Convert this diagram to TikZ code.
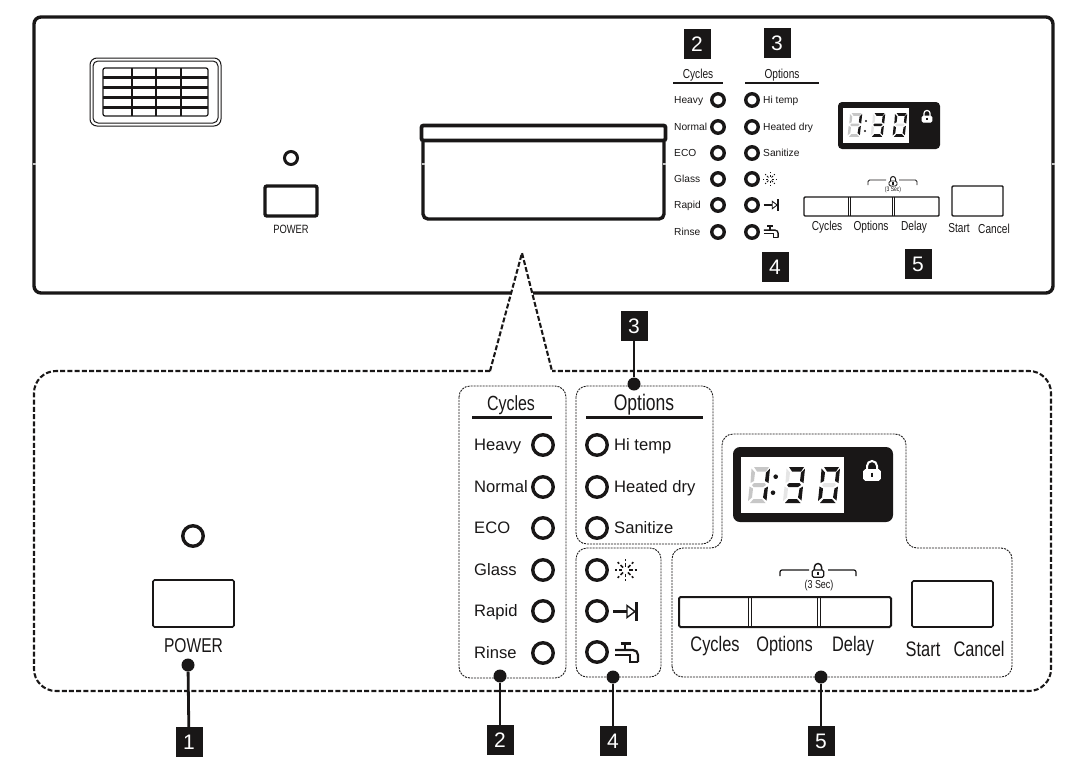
\documentclass[tikz,border=0pt]{standalone}
\usepackage{fontspec}
\setmainfont{Liberation Sans}
\newfontfamily\condfont{Liberation Sans}[FakeStretch=0.78]
\usetikzlibrary{positioning,calc}
\definecolor{panelblack}{rgb}{0.10,0.09,0.09}
\definecolor{seggray}{rgb}{0.78,0.78,0.78}
\definecolor{segfaint}{rgb}{0.90,0.90,0.90}

% segments of a digit
\def\sega{(7,0) -- (22,0) -- (19,4.5) -- (10,4.5) -- cycle}
\def\segb{(23,1.5) -- (21.5,16) -- (18,14) -- (19,5.5) -- cycle}
\def\segc{(21,19.5) -- (19.5,33.5) -- (16,30.5) -- (17.5,21.5) -- cycle}
\def\segd{(3,36) -- (18.5,36) -- (15,32) -- (6.5,32) -- cycle}
\def\sege{(2.5,19.5) -- (6,21.5) -- (5,30.5) -- (1,34) -- cycle}
\def\segf{(4.5,1.5) -- (8,5.5) -- (7,14) -- (3.5,16) -- cycle}
\def\segg{(7,16) -- (17.5,16) -- (19,18) -- (16,20) -- (6.5,20) -- (5,18) -- cycle}

% one seven segment digit, #1 = shift, #2 = scale, #3 = colour of the unlit part, #4 = unlit, #5 = lit
\newcommand{\segdigit}[5]{
\begin{scope}[shift={#1},scale=#2]
\fill[#3] #4;
\fill[panelblack] #5;
\end{scope}}

% padlock, #1 = shift, #2 = scale, #3 = colour, #4 = body fill
\newcommand{\lockicon}[4]{
\begin{scope}[shift={#1},scale=#2]
\draw[#3, line width=#2*2pt] (-5,0) -- (-5,-4) arc[start angle=180,end angle=360,radius=5] -- (5,0);
\draw[#3, fill=#4, rounded corners=1.5pt, line width=#2*1.6pt] (-8,0) rectangle (8,10);
\draw[panelblack, line width=#2*2.6pt] (0,2.5) -- (0,7);
\end{scope}}

% the three option symbols, #1 = shift, #2 = scale
\newcommand{\sunicon}[2]{
\begin{scope}[shift={#1},scale=#2]
\foreach \ang in {0,45,...,315}{
  \draw[panelblack, line width=#2*1.5pt] (\ang:3.5) -- (\ang:7);
  \draw[panelblack, line width=#2*1.5pt] (\ang:9) -- (\ang:11);
}
\end{scope}}
\newcommand{\passicon}[2]{
\begin{scope}[shift={#1},scale=#2]
\draw[panelblack, line width=#2*3pt] (-12,0) -- (2,0);
\draw[panelblack, line width=#2*1.4pt] (2,-6) -- (10,0) -- (2,6) -- cycle;
\draw[panelblack, line width=#2*3pt] (11,-9.5) -- (11,9.5);
\end{scope}}
\newcommand{\tapicon}[2]{
\begin{scope}[shift={#1},scale=#2]
\draw[panelblack, line width=#2*2.2pt] (-6,-9.5) -- (4,-9.5);
\draw[panelblack, line width=#2*2.2pt] (-1.5,-9.5) -- (-1.5,-3);
\draw[panelblack, line width=#2*2.2pt, rounded corners=#2*5pt] (-11.5,-3) -- (11.5,-3) -- (11.5,9);
\draw[panelblack, line width=#2*1.2pt] (-11.5,2) -- (3.5,2) -- (3.5,9) -- (11.5,9);
\end{scope}}

\tikzset{
  solidpanel/.style={draw=panelblack, line width=3.4pt, rounded corners=7pt},
  outerdash/.style={draw=panelblack, line width=2.1pt, dash pattern=on 5pt off 2.2pt},
  groupbox/.style={draw=panelblack, line width=0.9pt, dash pattern=on 2pt off 1pt, rounded corners=11pt},
  led/.style={circle, draw=panelblack, line width=3.4pt, minimum size=20.5pt, inner sep=0pt},
  ledsmall/.style={circle, draw=panelblack, line width=3.4pt, minimum size=12.5pt, inner sep=0pt},
  btn/.style={draw=panelblack, line width=1.6pt, rounded corners=1.5pt, inner sep=0pt},
  btnsmall/.style={draw=panelblack, line width=1.4pt, rounded corners=1pt, inner sep=0pt},
  lbl/.style={text=panelblack, inner sep=0pt, text height=12pt, text depth=1pt, font=\fontsize{16.6}{17}\selectfont},
  lblsmall/.style={text=panelblack, inner sep=0pt, text height=7.5pt, text depth=0.5pt, font=\fontsize{10.2}{10}\selectfont},
  cond/.style={text=panelblack, inner sep=0pt, font=\condfont\fontsize{#1}{#1}\selectfont},
  badge/.style={fill=panelblack, text=white, minimum width=27pt, minimum height=30pt, inner sep=0pt, font=\fontsize{21}{21}\selectfont},
  pin/.style={circle, fill=panelblack, minimum size=13pt, inner sep=0pt},
  leader/.style={draw=panelblack, line width=2.8pt},
  rulebar/.style={draw=panelblack, line width=#1},
  seamline/.style={draw=seggray, line width=1.2pt},
}

\begin{document}
\begin{tikzpicture}[x=1pt,y=-1pt]
\useasboundingbox (0,0) rectangle (1070,771);

%% upper panel
\draw[solidpanel] (511,293) -- (34,293) -- (34,17) -- (1053,17) -- (1053,293) -- (533,293);

% vent
\draw[panelblack, line width=1pt, rounded corners=7pt] (90,58) rectangle (221,126);
\draw[panelblack, line width=1pt, rounded corners=5pt] (93,61) rectangle (218,123);
\draw[panelblack, line width=1.2pt, rounded corners=2pt] (103,68) rectangle (208,116);
\foreach \yy in {77,87,97,107}{
  \draw[panelblack, line width=3pt] (103,\yy) -- (208,\yy);
}
\foreach \xx in {132,156,181}{
  \draw[panelblack, line width=2pt] (\xx,68) -- (\xx,116);
}

% power
\node[circle, draw=panelblack, line width=3pt, minimum size=13pt, inner sep=0pt] (pled) at (291,158) {};
\node[btn, line width=3.4pt, rounded corners=2pt, minimum width=52pt, minimum height=30pt] (pbtn) at (291,201) {};
\node[cond=12, below=7pt of pbtn] (ptxt) {POWER};

% window
\draw[panelblack, line width=3.4pt, rounded corners=5pt] (423,142) -- (423,219) -- (664,219) -- (664,142);
\node[draw=panelblack, line width=3.8pt, rounded corners=2pt, minimum width=244pt, minimum height=15pt, inner sep=0pt] (strip) at (543.5,133) {};
\draw[seamline] (32.5,164) -- (35.5,164) (421.5,164) -- (424.5,164) (662.5,164) -- (665.5,164) (1051.5,164) -- (1054.5,164);

% cycles and options column
\node[badge] (topb2) at (697,44) {2};
\node[badge] (topb3) at (777,43) {3};
\node[badge] (topb4) at (775,267) {4};
\node[badge] (topb5) at (918,264) {5};
\node[cond=13] (topcyc) at (698,75) {Cycles};
\node[cond=13] (topopt) at (782,75) {Options};
\draw[rulebar=1.4pt] (673,83) -- (723,83);
\draw[rulebar=1.4pt] (745,83) -- (819,83);

\foreach \i/\yy/\txt in {1/100/Heavy,2/127/Normal,3/153/ECO,4/179/Glass,5/205/Rapid,6/232/Rinse}{
  \node[ledsmall] (tcyc\i) at (718,\yy) {};
  \node[lblsmall, anchor=west] (tcyclbl\i) at (674,\yy) {\txt};
}
\foreach \i/\yy/\txt in {1/100/Hi temp,2/127/Heated dry,3/153/Sanitize}{
  \node[ledsmall] (topt\i) at (752,\yy) {};
  \node[lblsmall, anchor=west] (toptlbl\i) at (763,\yy) {\txt};
}
\foreach \i/\yy in {4/179,5/205,6/232}{
  \node[ledsmall] (topt\i) at (752,\yy) {};
}
\sunicon{(770,179)}{0.62}
\passicon{(771,205)}{0.62}
\tapicon{(771,232)}{0.62}

% small display
\node[fill=panelblack, rounded corners=4pt, minimum width=102pt, minimum height=47pt, inner sep=0pt] (tdisp) at (889,125.5) {};
\node[fill=white, minimum width=66pt, minimum height=35pt, inner sep=0pt] (tscreen) at (876,125.5) {};
\segdigit{(847,113)}{0.66}{seggray}{\sega \segd \sege \segf \segg}{\segb \segc}
\segdigit{(870,113)}{0.66}{segfaint}{\sege \segf}{\sega \segb \segc \segd \segg}
\segdigit{(892,113)}{0.66}{segfaint}{\segg}{\sega \segb \segc \segd \sege \segf}
\fill[panelblack] (866,121) circle (1.2pt) (865,131) circle (1.2pt);
\lockicon{(927,116)}{0.62}{white}{white}

% small keys
\draw[panelblack, line width=0.9pt, rounded corners=1.5pt] (868,185) -- (868,180) -- (886,180);
\draw[panelblack, line width=0.9pt, rounded corners=1.5pt] (917,185) -- (917,180) -- (899,180);
\lockicon{(893,181)}{0.5}{panelblack}{white}
\node[cond=6.5] (tsec) at (893,190) {(3 Sec)};
\node[btnsmall, minimum width=135pt, minimum height=19pt] (tkeys) at (871.5,206.5) {};
\draw[panelblack, line width=1pt] (848.5,197) -- (848.5,216) (850.5,197) -- (850.5,216);
\draw[panelblack, line width=1pt] (892.5,197) -- (892.5,216) (894.5,197) -- (894.5,216);
\node[btnsmall, minimum width=51pt, minimum height=30pt] (tstart) at (977.5,201) {};
\node[cond=13] (tk1) at (827,227.5) {Cycles};
\node[cond=13] (tk2) at (871,227.5) {Options};
\node[cond=13] (tk3) at (914,227.5) {Delay};
\node[cond=13] (tk4) at (959,228.5) {Start};
\node[cond=13] (tk5) at (994,228.5) {Cancel};

%% lower panel, enlarged
\draw[outerdash, rounded corners=22pt] (490,371) -- (34,371) -- (34,691) -- (1051,691) -- (1051,371) -- (552,371);
\draw[outerdash] (490,371) -- (522,253) -- (552,371);

\draw[groupbox] (459,386) rectangle (566,678);
\draw[groupbox] (576,386) rectangle (713,544);
\draw[groupbox] (576,548) rectangle (661,677);
\draw[groupbox] (672,677) -- (672,548) -- (722,548) -- (722,434) -- (906,434) -- (906,548) -- (1012,548) -- (1012,677) -- cycle;

% power
\node[led] (bled) at (193,536) {};
\node[btn, minimum width=81pt, minimum height=47pt] (bbtn) at (193.5,603.5) {};
\node[cond=20, below=11pt of bbtn] (btxt) {POWER};

% cycles
\node[cond=20.5] (bcyc) at (511,405) {Cycles};
\draw[rulebar=3pt] (472,417) -- (552,417);
\foreach \i/\yy/\txt in {1/445/Heavy,2/487/Normal,3/528/ECO,4/570/Glass,5/611/Rapid,6/653/Rinse}{
  \node[led] (cyc\i) at (543,\yy) {};
  \node[lbl, anchor=west] (cyclbl\i) at (474,\yy) {\txt};
}

% options
\node[cond=22.5] (bopt) at (644,405) {Options};
\draw[rulebar=3pt] (586,417) -- (703,417);
\foreach \i/\yy/\txt in {1/445/Hi temp,2/487/Heated dry,3/528/Sanitize}{
  \node[led] (opt\i) at (597,\yy) {};
  \node[lbl, anchor=west] (optlbl\i) at (614,\yy) {\txt};
}

% symbols
\foreach \i/\yy in {4/570,5/611,6/652}{
  \node[led] (opt\i) at (597,\yy) {};
}
\sunicon{(625.5,570)}{1}
\passicon{(625,611.5)}{1}
\tapicon{(626.5,653)}{1}

% display
\node[fill=panelblack, rounded corners=7pt, minimum width=160pt, minimum height=75pt, inner sep=0pt] (bdisp) at (813,484.5) {};
\node[fill=white, minimum width=103pt, minimum height=56pt, inner sep=0pt] (bscreen) at (792.5,485) {};
\segdigit{(747,467)}{1}{seggray}{\sega \segd \sege \segf \segg}{\segb \segc}
\segdigit{(782,467)}{1}{segfaint}{\sege \segf}{\sega \segb \segc \segd \segg}
\segdigit{(817,467)}{1}{segfaint}{\segg}{\sega \segb \segc \segd \sege \segf}
\fill[panelblack] (775.7,476.7) circle (2.3pt) (773,492.7) circle (2.3pt);
\lockicon{(872,470)}{1}{white}{white}

% keys
\draw[panelblack, line width=1.2pt, rounded corners=2pt] (780,576) -- (780,570) -- (809,570);
\draw[panelblack, line width=1.2pt, rounded corners=2pt] (856,576) -- (856,570) -- (828,570);
\lockicon{(818,570)}{0.72}{panelblack}{white}
\node[cond=11.5] (bsec) at (819,585.5) {(3 Sec)};
\node[btn, line width=2pt, minimum width=212pt, minimum height=30pt] (bkeys) at (785,612) {};
\draw[panelblack, line width=1.3pt] (748.5,597) -- (748.5,627) (751.5,597) -- (751.5,627);
\draw[panelblack, line width=1.3pt] (817.5,597) -- (817.5,627) (820.5,597) -- (820.5,627);
\node[btn, minimum width=81pt, minimum height=46pt] (bstart) at (952.5,604) {};
\node[cond=21] (bk1) at (715,646) {Cycles};
\node[cond=21] (bk2) at (784.5,646) {Options};
\node[cond=21] (bk3) at (853,646) {Delay};
\node[cond=21] (bk4) at (923,649) {Start};
\node[cond=21] (bk5) at (979,649) {Cancel};

%% numbered callouts
\node[badge] (badge1) at (189,742) {1};
\node[badge] (badge2) at (500,740) {2};
\node[badge] (badge3) at (634,326) {3};
\node[badge] (badge4) at (613,741) {4};
\node[badge] (badge5) at (821,741) {5};
\node[pin] (pin1) at (188,665) {};
\node[pin] (pin2) at (500,676) {};
\node[pin] (pin3) at (634,384) {};
\node[pin] (pin4) at (613,677) {};
\node[pin] (pin5) at (821,677) {};
\foreach \i in {1,...,5}{
  \draw[leader] (pin\i) -- (badge\i);
}

\end{tikzpicture}
\end{document}
